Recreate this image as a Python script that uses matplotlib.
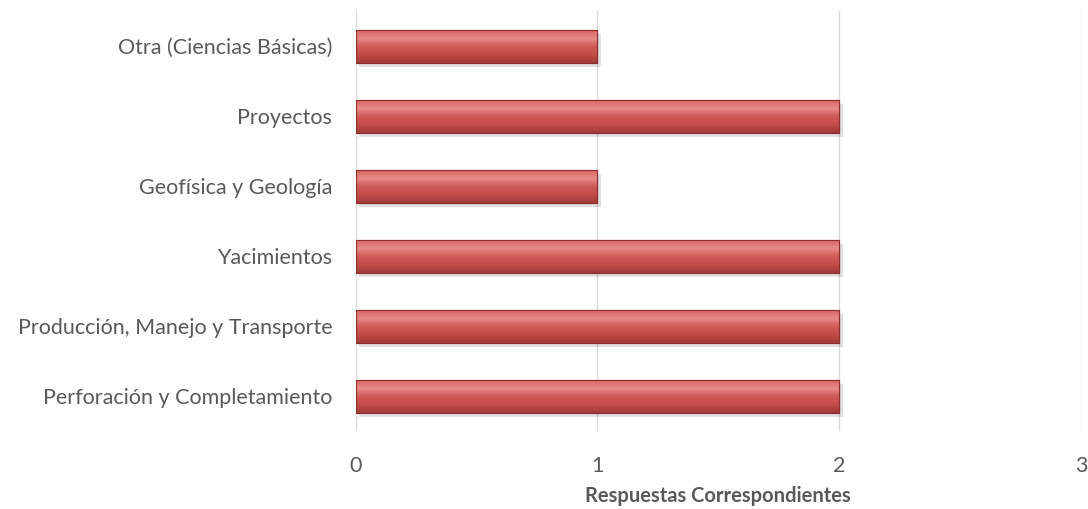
import matplotlib
matplotlib.use('Agg')
import matplotlib.pyplot as plt
import numpy as np
from matplotlib.colors import LinearSegmentedColormap

plt.rcParams['font.family'] = ['Lato', 'DejaVu Sans']

categories = ['Perforación y Completamiento', 'Producción, Manejo y Transporte',
              'Yacimientos', 'Geofísica y Geología', 'Proyectos', 'Otra (Ciencias Básicas)']
values = [2, 2, 2, 1, 2, 1]
xticks = [0, 1, 2, 3]

fig = plt.figure(figsize=(10.88, 5.09), dpi=100)
ax = fig.add_axes([0.327, 0.153, 0.6665, 0.825])

ypos = np.arange(len(categories))
bar_h = 0.47

# soft shadow
ax.barh(ypos - 0.06, values, height=bar_h, left=0.015, color='#000000', alpha=0.12,
        edgecolor='none', zorder=2)

bars = ax.barh(ypos, values, height=bar_h, color='#C9504D', edgecolor='#8E2F2D',
               linewidth=0.8, zorder=3)

# vertical gradient to imitate the bevel look
cmap = LinearSegmentedColormap.from_list('bev', ['#9E3B39', '#C44B48', '#D05A57', '#E88A87', '#D86764'])
grad = np.linspace(0, 1, 100).reshape(-1, 1)
for b in bars:
    x0, y0 = b.get_x(), b.get_y()
    w, h = b.get_width(), b.get_height()
    im = ax.imshow(grad, cmap=cmap, aspect='auto', extent=[x0, x0 + w, y0, y0 + h],
                   origin='lower', zorder=4, interpolation='bicubic')
    im.set_clip_path(b)
    ax.barh(b.get_y() + h / 2, w, height=h, left=x0, color='none',
            edgecolor='#8E2F2D', linewidth=0.8, zorder=5)

ax.set_xlim(0, 3)
ax.set_ylim(-0.5, len(categories) - 0.5)
ax.set_xticks(xticks)
ax.set_xticklabels([str(t) for t in xticks])
ax.set_yticks(ypos)
ax.set_yticklabels(categories)
ax.grid(axis='x', color='#D9D9D9', linewidth=1, zorder=0)
ax.set_axisbelow(True)
for s in ax.spines.values():
    s.set_visible(False)
ax.tick_params(axis='both', length=0, labelsize=15.5, colors='#595959')
ax.tick_params(axis='y', pad=17)
ax.tick_params(axis='x', pad=18)
ax.set_xlabel('Respuestas Correspondientes', fontsize=14.5, fontweight='bold',
              color='#595959')
ax.xaxis.label.set_va('center')
ax.xaxis.set_label_coords(0.5, -0.155)

fig.savefig('out.png', facecolor='white')
